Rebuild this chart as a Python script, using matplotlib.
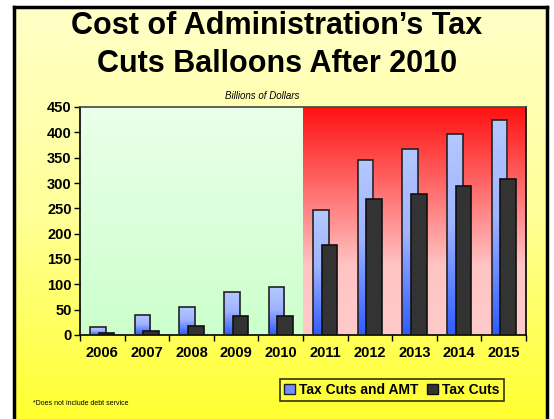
import numpy as np
import matplotlib
matplotlib.use("Agg")
import matplotlib.pyplot as plt
from matplotlib.colors import LinearSegmentedColormap
from matplotlib.patches import Patch

plt.rcParams['font.family'] = ['Liberation Sans', 'DejaVu Sans']

years = ["2006", "2007", "2008", "2009", "2010", "2011", "2012", "2013", "2014", "2015"]
tax_cuts_amt = [15, 39, 55, 85, 94, 246, 345, 368, 397, 424]
tax_cuts = [3, 7, 17, 37, 37, 178, 269, 279, 294, 308]

W, H = 554, 419
fig = plt.figure(figsize=(W / 100, H / 100), dpi=100)
fig.patch.set_facecolor("white")

# yellow panel with black frame
bg = fig.add_axes([14 / W, 0, 533 / W, 1 - 7 / H])
yellow = LinearSegmentedColormap.from_list("y", ["#ffffc8", "#ffff99", "#ffff30"])
bg.imshow(np.linspace(0, 1, 256).reshape(-1, 1), aspect="auto", cmap=yellow,
          extent=[0, 1, 0, 1], origin="upper")
bg.set_xlim(0, 1)
bg.set_ylim(0, 1)
bg.set_xticks([])
bg.set_yticks([])
for side in ["left", "right", "top"]:
    bg.spines[side].set_linewidth(2.5)
    bg.spines[side].set_color("black")
bg.spines["bottom"].set_visible(False)

ax = fig.add_axes([80 / W, 1 - 335 / H, 446 / W, 228 / H])
n = len(years)
x = np.arange(n)

grad = np.linspace(0, 1, 256).reshape(-1, 1)
green = LinearSegmentedColormap.from_list("g", ["#eaffea", "#ccffcc"])
red = LinearSegmentedColormap.from_list("r", [(0, "#ff1010"), (0.7, "#ffc4c4"), (1, "#ffcaca")])
ax.imshow(grad, aspect="auto", cmap=green, extent=[-0.5, 4.5, 0, 450], origin="upper", zorder=0)
ax.imshow(grad, aspect="auto", cmap=red, extent=[4.5, n - 0.5, 0, 450], origin="upper", zorder=0)

blue = LinearSegmentedColormap.from_list("b", [(0, "#b4c8ff"), (0.45, "#a0b4ff"), (1, "#2e5cff")])
bw = 0.35
off = 0.095
for xi, v in zip(x, tax_cuts_amt):
    r = ax.bar(xi - off, v, width=bw, facecolor="none", edgecolor="#222222", linewidth=1.2, zorder=3)[0]
    im = ax.imshow(grad, aspect="auto", cmap=blue, extent=[xi - off - bw / 2, xi - off + bw / 2, 0, v],
                   origin="upper", zorder=2)
    im.set_clip_path(r)
ax.bar(x + off, tax_cuts, width=bw, color="#333333", edgecolor="#111111", linewidth=1.2, zorder=4)

ax.set_xlim(-0.5, n - 0.5)
ax.set_ylim(0, 450)
ax.set_yticks(np.arange(0, 451, 50))
ax.set_yticklabels([str(t) for t in range(0, 451, 50)], fontsize=10.5, fontweight="bold")
ax.set_xticks(x)
ax.set_xticklabels(years, fontsize=10.5, fontweight="bold")
ax.tick_params(axis="x", length=0, pad=8)
ax.set_xticks(np.arange(-0.5, n, 1), minor=True)
ax.tick_params(axis="x", which="minor", length=4, width=1, direction="out")
ax.tick_params(axis="y", length=4, width=1, direction="out", pad=2)
for side in ["left", "bottom", "right", "top"]:
    ax.spines[side].set_linewidth(1.2)
    ax.spines[side].set_color("black")
ax.spines["top"].set_color("#444444")

fig.text(0.5, 1 - 26 / H, "Cost of Administration\u2019s Tax", ha="center", va="center",
         fontsize=22, fontweight="bold")
fig.text(0.5, 1 - 64 / H, "Cuts Balloons After 2010", ha="center", va="center",
         fontsize=22, fontweight="bold")
fig.text(262 / W, 1 - 96 / H, "Billions of Dollars", ha="center", va="center",
         fontsize=7, style="italic")
fig.text(33 / W, 1 - 403 / H, "*Does not include debt service", ha="left", va="center",
         fontsize=5)

handles = [Patch(facecolor="#7090ff", edgecolor="#222222", label="Tax Cuts and AMT"),
           Patch(facecolor="#333333", edgecolor="#111111", label="Tax Cuts")]
leg = fig.legend(handles=handles, loc="center", bbox_to_anchor=(392 / W, 1 - 390 / H), ncol=2,
                 prop={"weight": "bold", "size": 10}, frameon=True, fancybox=False,
                 handlelength=0.8, handleheight=0.8, handletextpad=0.3, columnspacing=0.6,
                 borderpad=0.3, borderaxespad=0)
leg.get_frame().set_edgecolor("black")
leg.get_frame().set_linewidth(1.2)
leg.get_frame().set_facecolor("none")

fig.savefig("out.png", dpi=100, facecolor=fig.get_facecolor())
